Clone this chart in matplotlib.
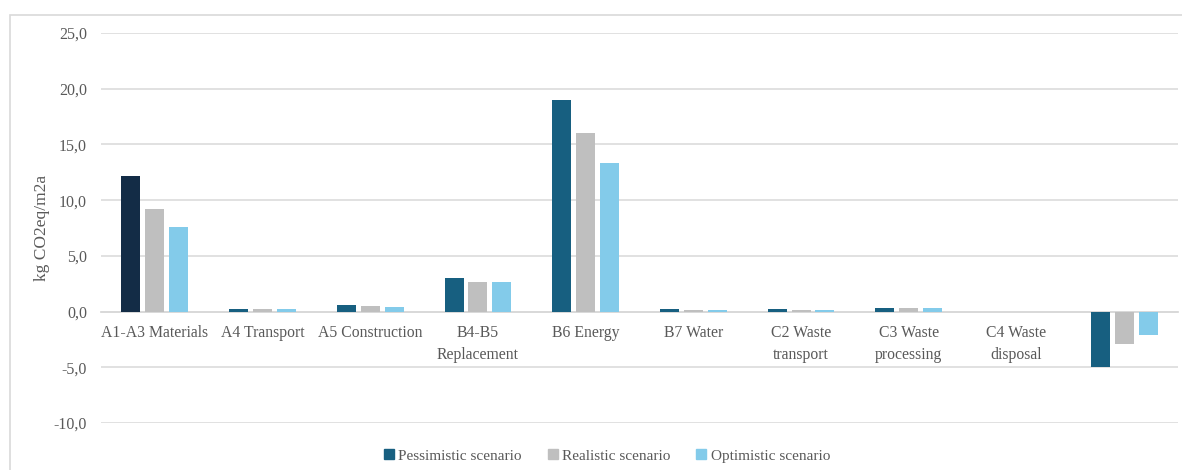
import matplotlib
matplotlib.use("Agg")
import matplotlib.pyplot as plt
from matplotlib.patches import Rectangle, Patch
from matplotlib.ticker import FuncFormatter
import numpy as np

categories = ["A1-A3 Materials", "A4 Transport", "A5 Construction", "B4-B5\nReplacement",
              "B6 Energy", "B7 Water", "C2 Waste\ntransport", "C3 Waste\nprocessing",
              "C4 Waste\ndisposal", ""]
pessimistic = [12.2, 0.25, 0.6, 3.0, 19.0, 0.2, 0.2, 0.32, 0.0, -5.0]
realistic = [9.2, 0.22, 0.48, 2.65, 16.0, 0.17, 0.17, 0.28, 0.0, -2.9]
optimistic = [7.6, 0.22, 0.42, 2.65, 13.3, 0.17, 0.17, 0.28, 0.0, -2.1]
series_names = ["Pessimistic scenario", "Realistic scenario", "Optimistic scenario"]
y_ticks = [-10, -5, 0, 5, 10, 15, 20, 25]

c_pess = "#175f80"
c_pess_first = "#132c46"
c_real = "#bfbfbf"
c_opt = "#83cbea"
text_col = "#595959"
grid_col = "#d9d9d9"

plt.rcParams["font.family"] = ["Liberation Serif", "DejaVu Serif"]

fig = plt.figure(figsize=(11.82, 4.70), dpi=100)
fig.patches.append(Rectangle((10 / 1182, -0.1), 1.2, 1 - 15 / 470 + 0.1,
                             transform=fig.transFigure, fill=False,
                             edgecolor=grid_col, linewidth=1.2))

ax = fig.add_axes([101 / 1182, 1 - 423 / 470, (1178 - 101) / 1182, (423 - 33) / 470])

x = np.arange(len(categories))
w = 0.176
off = 0.222
pess_colors = [c_pess_first] + [c_pess] * (len(categories) - 1)
ax.bar(x - off, pessimistic, w, color=pess_colors, linewidth=0, zorder=3)
ax.bar(x, realistic, w, color=c_real, linewidth=0, zorder=3)
ax.bar(x + off, optimistic, w, color=c_opt, linewidth=0, zorder=3)

ax.set_xlim(-0.5, len(categories) - 0.5)
ax.set_ylim(-10, 25)
ax.set_yticks(y_ticks)
ax.yaxis.set_major_formatter(FuncFormatter(lambda v, p: f"{v:.1f}".replace(".", ",")))
ax.grid(axis="y", color=grid_col, linewidth=1.1, zorder=0)
ax.set_axisbelow(True)

for s in ["top", "right", "left"]:
    ax.spines[s].set_visible(False)
ax.spines["bottom"].set_position(("data", 0))
ax.spines["bottom"].set_color(grid_col)
ax.spines["bottom"].set_linewidth(1.3)
ax.spines["bottom"].set_zorder(2)

ax.set_xticks(x)
ax.set_xticklabels(categories, fontsize=11.3, color=text_col, linespacing=1.45)
ax.tick_params(axis="x", length=0, pad=10)
ax.tick_params(axis="y", length=0, pad=10, labelsize=11.5, labelcolor=text_col)

ax.set_ylabel("kg CO2eq/m2a", fontsize=12.5, color=text_col, labelpad=3)

handles = [Patch(color=c_pess), Patch(color=c_real), Patch(color=c_opt)]
fig.legend(handles, series_names, loc="center", bbox_to_anchor=(607 / 1182, 1 - 456 / 470),
           ncol=3, frameon=False, fontsize=11, labelcolor=text_col,
           handlelength=0.65, handleheight=0.65, handletextpad=0.3, columnspacing=1.7)

fig.savefig("out.png", dpi=100)
